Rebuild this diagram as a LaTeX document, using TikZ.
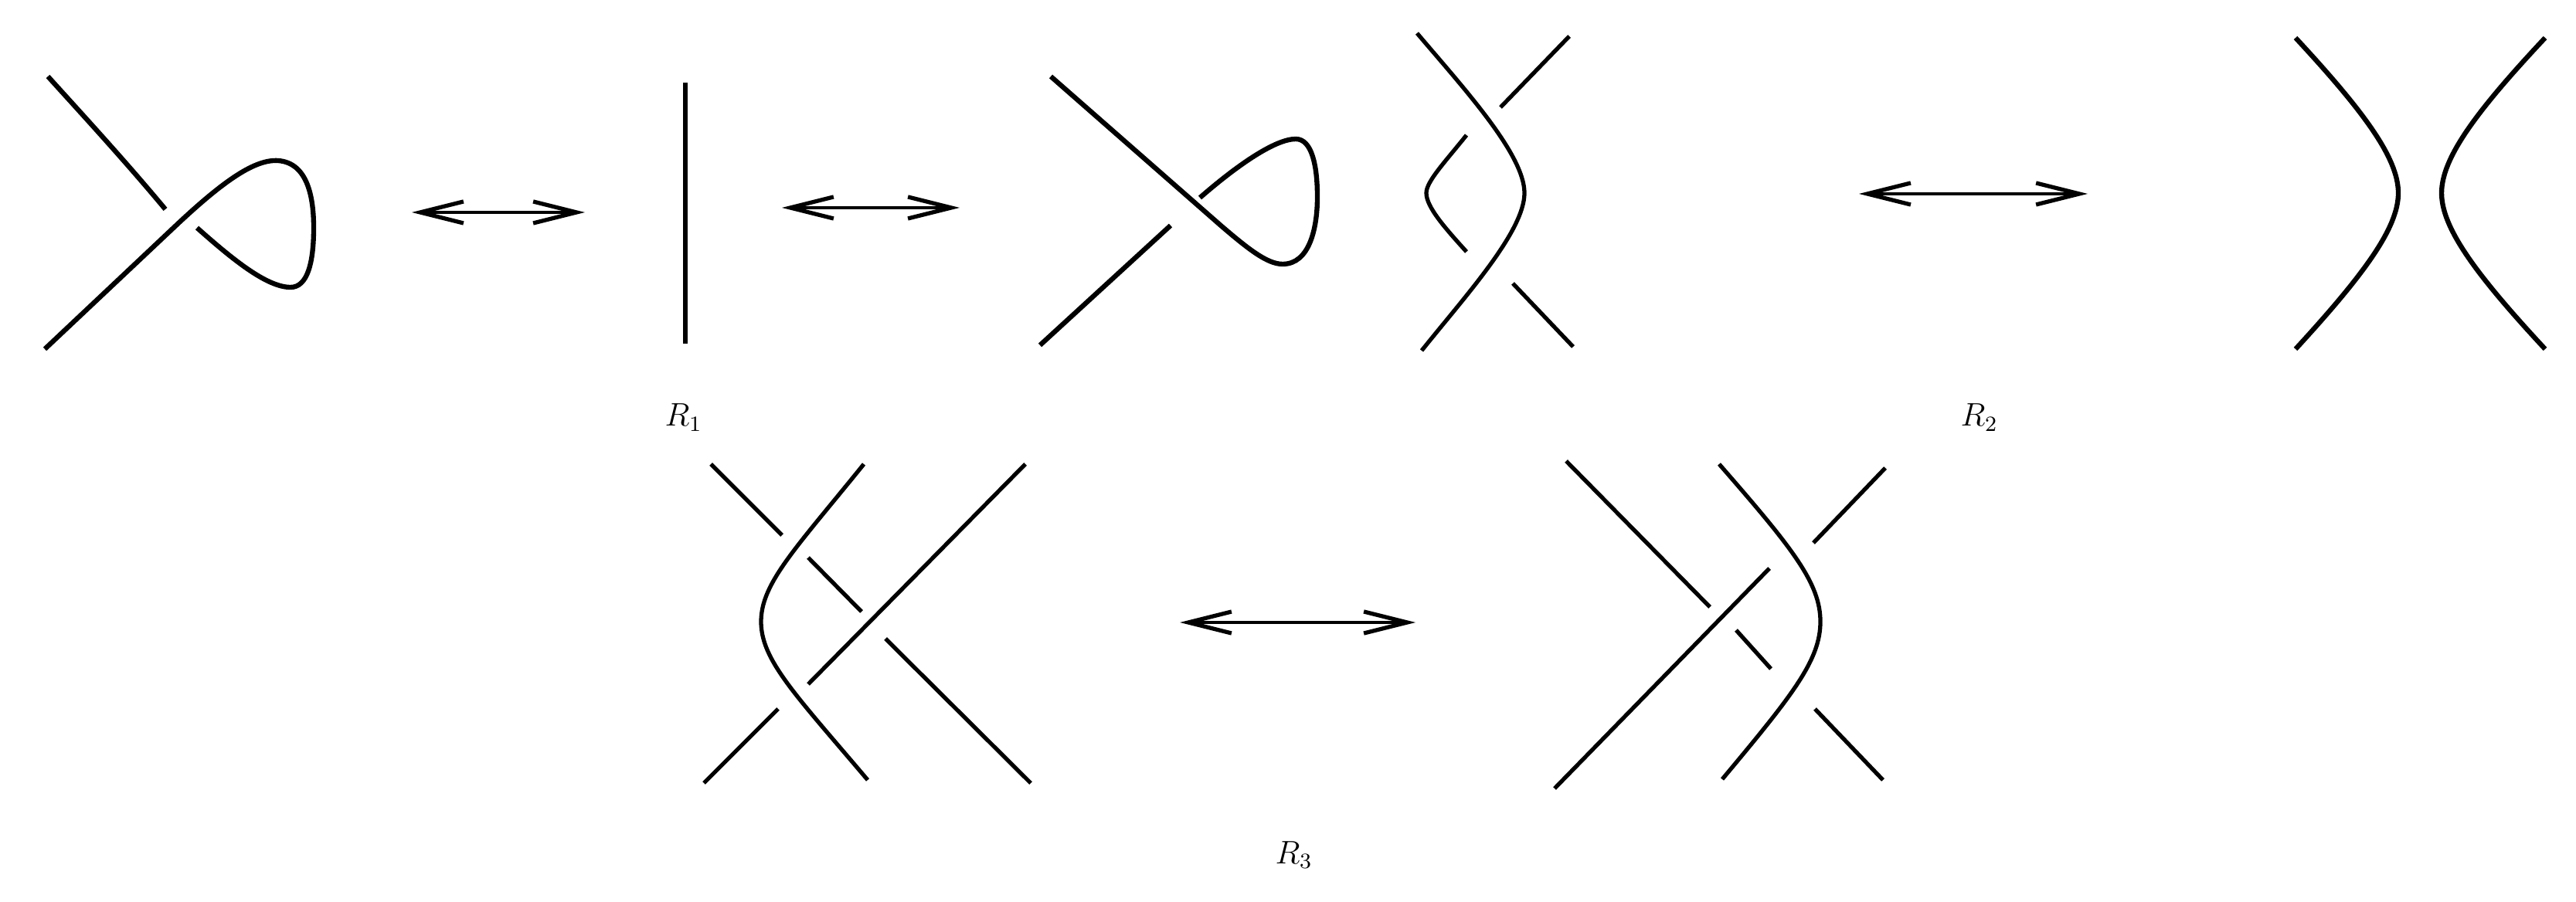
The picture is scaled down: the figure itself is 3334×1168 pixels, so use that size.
\documentclass[tikz,border=0pt]{standalone}
\usetikzlibrary{arrows.meta}
\begin{document}
\begin{tikzpicture}[x=0.01cm,y=-0.01cm,
  strand/.style={line width=1.8pt},
  thin strand/.style={line width=1.5pt},
  dbl/.style={line width=1.25pt,{Straight Barb[length=5.6mm,width=2.8mm,line width=1.5pt]}-{Straight Barb[length=5.6mm,width=2.8mm,line width=1.5pt]}},
  lbl/.style={font=\fontsize{11.5}{13}\selectfont, inner sep=0pt}]
\useasboundingbox (0,0) rectangle (3334,1168);
% ---- R1: kink (left)
\draw[strand] (62,99) .. controls (110,152) and (165,212) .. (214,271);
\draw[strand] (58,452) -- (232,288) .. controls (290,234) and (330,206) .. (360,208)
  .. controls (398,211) and (406,255) .. (406,295) .. controls (406,340) and (398,372) .. (376,372)
  .. controls (345,372) and (300,335) .. (255,295);
% ---- R1: straight strand
\draw[strand] (887,107) -- (887,445);
% ---- R1: kink (right)
\draw[strand] (1360,99) -- (1580,292) .. controls (1615,322) and (1640,342) .. (1660,342)
  .. controls (1695,342) and (1705,295) .. (1705,255) .. controls (1705,215) and (1698,180) .. (1677,180)
  .. controls (1650,180) and (1600,215) .. (1553,256);
\draw[strand] (1346,447) -- (1515,292);
% ---- R2: left
\draw[thin strand] (1834,43) .. controls (1895,115) and (1973,200) .. (1973,250)
  .. controls (1973,300) and (1895,385) .. (1840,454);
\draw[thin strand] (2031,47) -- (1942,139);
\draw[thin strand] (1898,175) .. controls (1870,210) and (1846,235) .. (1846,250)
  .. controls (1846,268) and (1870,295) .. (1898,326);
\draw[thin strand] (1958,367) -- (2036,449);
% ---- R2: right
\draw[strand] (2971,49) .. controls (3060,145) and (3104,205) .. (3104,250)
  .. controls (3104,295) and (3060,355) .. (2971,452);
\draw[strand] (3294,49) .. controls (3204,145) and (3160,205) .. (3160,250)
  .. controls (3160,295) and (3204,355) .. (3294,452);
% ---- R3: left
\draw[thin strand] (920,601) -- (1012,693);
\draw[thin strand] (1046,722) -- (1115,792);
\draw[thin strand] (1146,827) -- (1334,1014);
\draw[thin strand] (1118,601) .. controls (1030,710) and (985,755) .. (985,805)
  .. controls (985,855) and (1030,900) .. (1123,1010);
\draw[thin strand] (1327,601) -- (1046,886);
\draw[thin strand] (1007,918) -- (911,1014);
% ---- R3: right
\draw[thin strand] (2027,597) -- (2213,786);
\draw[thin strand] (2247,816) -- (2292,866);
\draw[thin strand] (2349,918) -- (2437,1010);
\draw[thin strand] (2012,1021) -- (2290,736);
\draw[thin strand] (2347,703) -- (2440,606);
\draw[thin strand] (2225,601) .. controls (2320,710) and (2356,755) .. (2356,805)
  .. controls (2356,855) and (2320,900) .. (2229,1009);
% ---- arrows
\coordinate (a1l) at (533,275); \coordinate (a1r) at (757,275);
\coordinate (a2l) at (1012,269); \coordinate (a2r) at (1242,269);
\coordinate (a3l) at (2406,251); \coordinate (a3r) at (2702,251);
\coordinate (a4l) at (1527,806); \coordinate (a4r) at (1832,806);
\draw[dbl] (a1l) -- (a1r);
\draw[dbl] (a2l) -- (a2r);
\draw[dbl] (a3l) -- (a3r);
\draw[dbl] (a4l) -- (a4r);
% ---- labels
\node[lbl, anchor=base west] (r1) at (860,552) {$R_1$};
\node[lbl, anchor=base west] (r2) at (2537,552) {$R_2$};
\node[lbl, anchor=base west] (r3) at (1650,1118) {$R_3$};
\end{tikzpicture}
\end{document}
